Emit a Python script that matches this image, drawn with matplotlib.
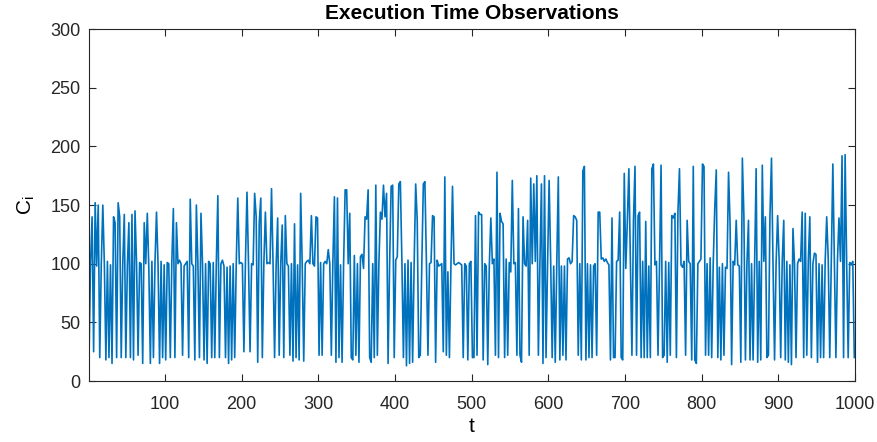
import numpy as np
import matplotlib
matplotlib.use("Agg")
import matplotlib.pyplot as plt

plt.rcParams['font.family'] = ['Liberation Sans', 'DejaVu Sans']
plt.rcParams['mathtext.default'] = 'regular'

# execution time samples, every second observation (t = 1, 3, 5, ...)
c_part1 = [20, 100, 140, 25, 152, 98, 150, 20, 100, 150, 100, 18, 102, 20, 99, 15, 140, 135, 20, 152,
           140, 20, 100, 142, 20, 98, 135, 20, 142, 18, 145, 100, 22, 101, 100, 15, 135, 100, 143, 96,
           15, 102, 20, 100, 144, 100, 15, 102, 20, 99, 18, 101, 100, 20, 102, 147, 20, 135, 100, 103,
           100, 22, 98, 100, 102, 20, 155, 100, 98, 18, 150, 100, 20, 143, 100, 18, 100, 15, 102, 100,
           20, 101, 20, 100, 158]
c_part2 = [20, 100, 103, 98, 20, 97, 15, 98, 18, 100, 20, 100, 156, 100, 101, 100, 25, 102, 161, 100,
           25, 100, 99, 160, 140, 16, 135, 156, 20, 100, 144, 100, 101, 100, 164, 100, 20, 98, 139, 22,
           100, 133, 20, 141, 100, 98, 22, 100, 17, 134, 20, 99, 18, 160, 100, 17, 100, 102, 103, 100,
           141, 100, 98, 140, 139, 22, 101, 22, 100, 102, 100, 112, 100, 22, 101, 157, 16, 156, 20, 99,
           16, 100, 163]
c_part3 = [163, 100, 143, 20, 18, 107, 22, 100, 16, 106, 108, 96, 140, 138, 163, 20, 16, 100, 20, 167,
           22, 100, 144, 138, 167, 140, 160, 15, 100, 166, 167, 20, 103, 106, 168, 170, 103, 20, 100, 13,
           103, 15, 101, 16, 100, 168, 137, 20, 22, 100, 168, 170, 101, 22, 100, 101, 141, 140, 16, 103,
           98, 99, 100, 25, 174, 22, 93, 20, 99, 166, 100, 99, 100, 101, 100, 99, 20, 100, 98, 18,
           100, 102, 20]
c_part4 = [20, 141, 22, 144, 142, 142, 18, 100, 98, 14, 98, 139, 100, 104, 22, 178, 20, 143, 136, 134,
           20, 104, 22, 101, 93, 171, 100, 101, 22, 147, 22, 16, 140, 100, 98, 137, 22, 173, 100, 168,
           102, 175, 22, 100, 168, 15, 175, 20, 100, 171, 104, 20, 98, 16, 100, 174, 18, 98, 22, 98,
           18, 104, 105, 100, 102, 141, 140, 137, 22, 100, 18, 179, 183, 18, 100, 20, 99, 20, 98, 100,
           22, 144]
c_part5 = [144, 104, 105, 102, 104, 101, 99, 18, 139, 20, 20, 102, 103, 144, 20, 18, 177, 96, 136, 181,
           99, 22, 137, 183, 22, 141, 144, 20, 102, 20, 136, 20, 98, 20, 181, 185, 99, 102, 22, 99,
           184, 20, 22, 102, 16, 101, 22, 141, 139, 143, 20, 144, 181, 99, 97, 102, 22, 137, 102, 100,
           18, 183, 18, 15, 100, 102, 104, 185, 183, 22, 100, 22, 105, 20, 100, 147, 180, 20, 97, 18,
           100, 22]
c_part6 = [97, 96, 178, 134, 14, 102, 99, 137, 99, 98, 16, 190, 141, 18, 101, 137, 18, 100, 18, 102,
           181, 16, 102, 18, 184, 102, 140, 20, 22, 141, 190, 99, 18, 100, 141, 103, 20, 102, 137, 18,
           102, 16, 99, 14, 130, 100, 20, 100, 104, 102, 144, 20, 143, 22, 102, 140, 20, 100, 109, 108,
           16, 100, 20, 99, 20, 102, 140, 104, 20, 102, 185, 104, 20, 102, 139, 102, 192, 20, 193, 102,
           20, 101, 99, 102, 20]

c_values = np.array(c_part1 + c_part2 + c_part3 + c_part4 + c_part5 + c_part6, dtype=float)
t_values = np.arange(1, 2 * len(c_values), 2)

x_ticks = list(range(100, 1001, 100))
y_ticks = list(range(0, 301, 50))

fig = plt.figure(figsize=(8.77, 4.42), dpi=100)
ax = fig.add_axes([0.1015, 0.138, 0.8735, 0.796])

ax.plot(t_values, c_values, color='#0072BD', linewidth=1.2)

ax.set_xlim(1, 1000)
ax.set_ylim(0, 300)
ax.set_xticks(x_ticks)
ax.set_yticks(y_ticks)

edge = '#262626'
for side in ax.spines.values():
    side.set_color(edge)
    side.set_linewidth(0.8)
ax.tick_params(direction='in', top=True, right=True, length=5, width=0.8,
               colors=edge, labelsize=13)
ax.tick_params(axis='x', pad=11)
ax.tick_params(axis='y', pad=6)

ax.set_title('Execution Time Observations', fontsize=15, fontweight='bold', pad=7)
ax.set_xlabel('t', fontsize=15, labelpad=3)
ax.set_ylabel('C$_i$', fontsize=15, labelpad=10)

fig.savefig('out.png', dpi=100)
